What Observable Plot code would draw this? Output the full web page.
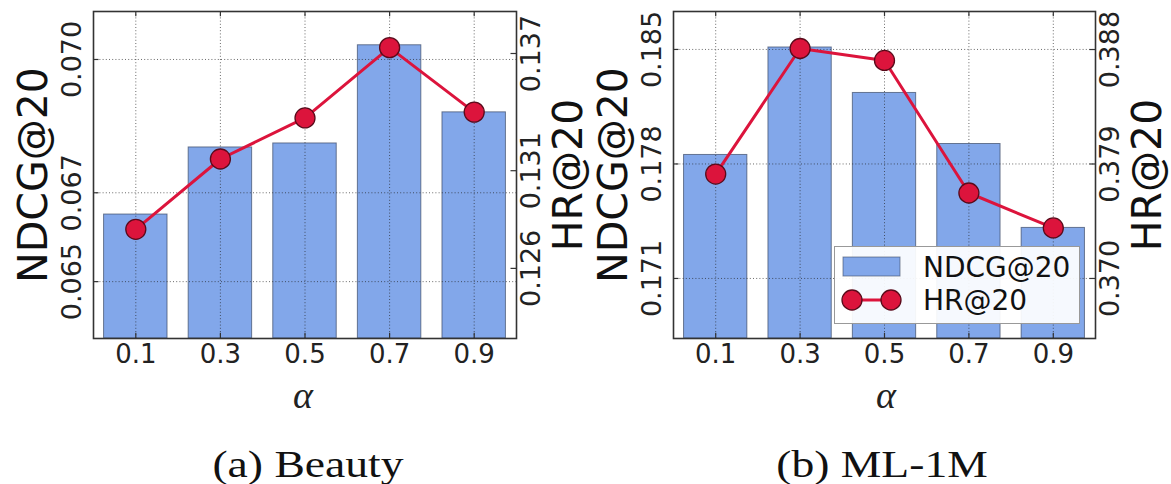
<!DOCTYPE html>
<html><head><meta charset="utf-8">
<script src="https://cdn.jsdelivr.net/npm/d3@7"></script>
<script src="https://cdn.jsdelivr.net/npm/@observablehq/plot@0.6"></script>
<style>
body{margin:0;background:#fff;}
#wrap{position:relative;width:1171px;height:484px;overflow:hidden;font-family:"DejaVu Sans";background:#fff;}
.panel{position:absolute;top:0;}
.alpha{position:absolute;font-family:"Liberation Serif";font-style:italic;font-size:38px;transform:translate(-50%,-50%);color:#222;}
.cap{position:absolute;font-family:"Liberation Serif";font-size:38px;transform:translate(-50%,-50%) scaleX(1.2);white-space:nowrap;color:#111;}
.legend{position:absolute;}
</style></head><body><div id="wrap"></div>
<script>
// ---- data ----
const alphas = [0.1, 0.3, 0.5, 0.7, 0.9];
const alphaLabels = ["0.1", "0.3", "0.5", "0.7", "0.9"];

const beautyNDCG = [0.06651, 0.06802, 0.06811, 0.07032, 0.06881];
const beautyHR = [0.1280, 0.1316, 0.1337, 0.1373, 0.1340];
const beautyNDCGTicks = [0.065, 0.067, 0.070];
const beautyHRTicks = [0.126, 0.131, 0.137];
const beautyNDCGDomain = [0.06372, 0.07108];
const beautyHRDomain = [0.12241, 0.13915];

const mlNDCG = [0.17855, 0.18512, 0.18234, 0.17922, 0.17409];
const mlHR = [0.37821, 0.38808, 0.38714, 0.37672, 0.37397];
const mlNDCGTicks = [0.171, 0.178, 0.185];
const mlHRTicks = [0.370, 0.379, 0.388];
const mlNDCGDomain = [0.16733, 0.18732];
const mlHRDomain = [0.36528, 0.39099];

const panels = [
  {name: "(a) Beauty", ndcg: beautyNDCG, hr: beautyHR, nt: beautyNDCGTicks, ht: beautyHRTicks, nd: beautyNDCGDomain, hd: beautyHRDomain},
  {name: "(b) ML-1M", ndcg: mlNDCG, hr: mlHR, nt: mlNDCGTicks, ht: mlHRTicks, nd: mlNDCGDomain, hd: mlHRDomain}
];

const BAR_FILL = "#82a7ea";
const LINE = "#dc143c";
const wrap = document.getElementById("wrap");
const panelLeft = [0, 580];
const marginRights = [70, 71];
const barHalf = 0.075;

panels.forEach((p, k) => {
  const nd = p.nd, hd = p.hd;
  const toY = v => nd[0] + (v - hd[0]) / (hd[1] - hd[0]) * (nd[1] - nd[0]);
  const rows = alphas.map((a, i) => ({a, label: alphaLabels[i], ndcg: p.ndcg[i], hrY: toY(p.hr[i])}));
  const rightTicks = p.ht.map(t => ({y: toY(t), label: t.toFixed(3)}));
  const leftTicks = p.nt.map(t => ({y: t, label: t.toFixed(3)}));
  const span = nd[1] - nd[0];
  const grid = {stroke: "#222", strokeDasharray: "1,2.2", strokeWidth: 0.9, strokeOpacity: 0.75};

  const chart = Plot.plot({
    width: 586, height: 380,
    marginLeft: 93, marginRight: marginRights[k], marginTop: 11, marginBottom: 42,
    style: {fontFamily: "DejaVu Sans", background: "transparent", overflow: "visible"},
    x: {domain: [0, 1], axis: null},
    y: {domain: nd, axis: null},
    marks: [
      Plot.rectY(rows, {x1: d => d.a - barHalf, x2: d => d.a + barHalf, y1: () => nd[0], y2: "ndcg",
        fill: BAR_FILL, stroke: "#3c4a66", strokeWidth: 1, strokeOpacity: 0.7}),
      Plot.ruleX(alphas, {x: d => d, ...grid}),
      Plot.ruleY(leftTicks, {y: "y", ...grid}),
      // inward tick marks
      Plot.ruleY(leftTicks, {y: "y", x1: 0, x2: 0.013, stroke: "#333", strokeWidth: 1.2}),
      Plot.ruleY(rightTicks, {y: "y", x1: 0.987, x2: 1, stroke: "#333", strokeWidth: 1.2}),
      Plot.ruleX(alphas, {x: d => d, y1: nd[0], y2: nd[0] + span * 0.016, stroke: "#333", strokeWidth: 1.2}),
      Plot.ruleX(alphas, {x: d => d, y1: nd[1] - span * 0.016, y2: nd[1], stroke: "#333", strokeWidth: 1.2}),
      Plot.line(rows, {x: "a", y: "hrY", stroke: LINE, strokeWidth: 3}),
      Plot.dot(rows, {x: "a", y: "hrY", r: 10, fill: LINE, stroke: "#5a0a1a", strokeWidth: 1.3}),
      Plot.frame({stroke: "#333", strokeWidth: 1.6}),
      // tick labels
      Plot.text(rows, {x: "a", text: "label", frameAnchor: "bottom", lineAnchor: "middle", textAnchor: "middle", dy: 16, fontSize: 26, fill: "#222"}),
      Plot.text(leftTicks, {y: "y", text: "label", frameAnchor: "left", textAnchor: "middle", lineAnchor: "middle", dx: -21, rotate: -90, fontSize: 27, fill: "#222"}),
      Plot.text(rightTicks, {y: "y", text: "label", frameAnchor: "right", textAnchor: "middle", lineAnchor: "middle", dx: 15, rotate: -90, fontSize: 27, fill: "#222"}),
      // axis titles
      Plot.text(["NDCG@20"], {text: d => d, frameAnchor: "left", textAnchor: "middle", lineAnchor: "middle", dx: -60, rotate: -90, fontSize: 41, fill: "#111"}),
      Plot.text(["HR@20"], {text: d => d, frameAnchor: "right", textAnchor: "middle", lineAnchor: "middle", dx: 52, rotate: -90, fontSize: 41, fill: "#111"})
    ]
  });
  const holder = document.createElement("div");
  holder.className = "panel";
  holder.style.left = panelLeft[k] + "px";
  holder.appendChild(chart);
  wrap.appendChild(holder);

  const al = document.createElement("div");
  al.className = "alpha";
  al.textContent = "α";
  al.style.left = (k === 0 ? 303 : 886) + "px";
  al.style.top = "395px";
  wrap.appendChild(al);

  const cap = document.createElement("div");
  cap.className = "cap";
  cap.textContent = p.name;
  cap.style.left = (k === 0 ? 308 : 882) + "px";
  cap.style.top = "464px";
  wrap.appendChild(cap);
});

// legend (inside panel b)
const lg = document.createElement("div");
lg.className = "legend";
lg.style.left = "834px"; lg.style.top = "246px";
lg.innerHTML = `<svg width="247" height="79" xmlns="http://www.w3.org/2000/svg" style="font-family:'DejaVu Sans'">
<rect x="0.5" y="0.5" width="245" height="77" fill="#ffffff" fill-opacity="0.93" stroke="#999" stroke-width="1"/>
<rect x="9" y="11" width="57" height="19" fill="${BAR_FILL}" stroke="#3c4a66" stroke-opacity="0.6"/>
<text x="89" y="21" dy="0.36em" font-size="28" fill="#111">NDCG@20</text>
<line x1="18" y1="54" x2="57" y2="54" stroke="${LINE}" stroke-width="3"/>
<circle cx="18" cy="54" r="10" fill="${LINE}" stroke="#5a0a1a" stroke-width="1.3"/>
<circle cx="57" cy="54" r="10" fill="${LINE}" stroke="#5a0a1a" stroke-width="1.3"/>
<text x="89" y="54" dy="0.36em" font-size="28" fill="#111">HR@20</text>
</svg>`;
wrap.appendChild(lg);
</script>
</body></html>
